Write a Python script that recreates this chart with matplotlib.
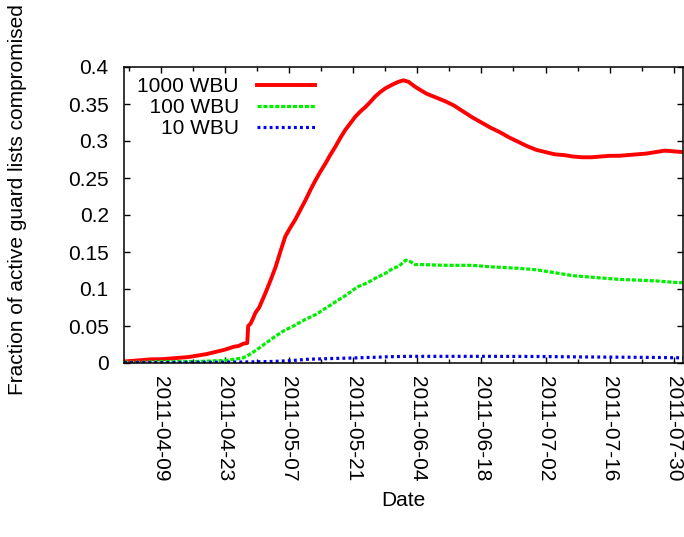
import numpy as np
import pandas as pd
import matplotlib
matplotlib.use('Agg')
import matplotlib.pyplot as plt

plt.rcParams['font.family'] = ['Liberation Sans', 'DejaVu Sans']
plt.rcParams['font.size'] = 15

# x values are days since 2011-04-01
start = pd.Timestamp('2011-04-01')
x_end = pd.Timestamp('2011-08-01')

red_days = [0, 2, 4, 6, 8, 10, 12, 14, 16, 18, 20, 22, 24, 25, 26, 26.9,
            27.1, 27.6, 28.0, 28.7, 29.5, 30.2, 30.9, 32.0, 33.1, 34.2, 35.2,
            36.3, 37.4, 38.5, 39.6, 40.7, 41.8, 42.9, 44.0, 45.0, 46.1, 47.2,
            48.3, 49.4, 50.5, 51.6, 52.7, 53.8, 54.8, 55.9, 57.0, 58.5, 59.9,
            61.0, 62.1, 63.6, 66, 68, 70, 72, 74, 76, 78, 80, 82, 84, 86, 88,
            90, 92, 94, 96, 98, 100, 102, 104, 106, 108, 110, 112, 114, 116,
            118, 120, 122]
red_vals = [0.002, 0.003, 0.004, 0.005, 0.005, 0.006, 0.007, 0.008, 0.010,
            0.012, 0.015, 0.018, 0.022, 0.023, 0.026, 0.027,
            0.050, 0.053, 0.058, 0.068, 0.075, 0.085, 0.095, 0.112, 0.130,
            0.152, 0.171, 0.183, 0.194, 0.207, 0.220, 0.234, 0.247, 0.259,
            0.270, 0.281, 0.292, 0.304, 0.315, 0.324, 0.333, 0.340, 0.346,
            0.353, 0.360, 0.366, 0.371, 0.376, 0.380, 0.382, 0.380, 0.373,
            0.364, 0.359, 0.354, 0.348, 0.340, 0.332, 0.325, 0.318, 0.312,
            0.305, 0.299, 0.293, 0.288, 0.285, 0.282, 0.281, 0.279, 0.278,
            0.278, 0.279, 0.280, 0.280, 0.281, 0.282, 0.283, 0.285, 0.287,
            0.286, 0.285]

green_days = [0, 4, 8, 12, 16, 20, 23, 26, 27, 28, 29, 31, 33, 35, 37, 39.6,
              42, 44, 46, 48.3, 51, 53, 55, 57, 58.5, 60, 61.5, 62.5, 63.5,
              65, 70, 76, 80, 86, 90, 94, 98, 100, 104, 108, 112, 116, 120,
              122]
green_vals = [0.001, 0.001, 0.002, 0.002, 0.002, 0.003, 0.004, 0.007, 0.010,
              0.014, 0.018, 0.027, 0.036, 0.044, 0.050, 0.059, 0.066, 0.074,
              0.082, 0.091, 0.103, 0.108, 0.115, 0.121, 0.127, 0.131, 0.139,
              0.137, 0.133, 0.133, 0.132, 0.132, 0.130, 0.128, 0.126, 0.122,
              0.118, 0.117, 0.115, 0.113, 0.112, 0.111, 0.109, 0.1085]

blue_days = [0, 10, 20, 28, 32, 36, 40, 45, 50, 55, 58, 62, 70, 80, 90, 100,
             110, 116, 122]
blue_vals = [0.0005, 0.0007, 0.001, 0.0015, 0.002, 0.003, 0.005, 0.006,
             0.0068, 0.0078, 0.0085, 0.009, 0.009, 0.009, 0.0088, 0.0082,
             0.0078, 0.0075, 0.007]

series_names = ['1000 WBU', '  100 WBU', '    10 WBU']

major_dates = ['2011-04-09', '2011-04-23', '2011-05-07', '2011-05-21',
               '2011-06-04', '2011-06-18', '2011-07-02', '2011-07-16',
               '2011-07-30']
y_ticks = [0, 0.05, 0.1, 0.15, 0.2, 0.25, 0.3, 0.35, 0.4]
y_labels = ['0', '0.05', '0.1', '0.15', '0.2', '0.25', '0.3', '0.35', '0.4']


def to_dates(days):
    return (start + pd.to_timedelta(days, unit='D')).to_numpy()


fig = plt.figure(figsize=(6.84, 5.37), dpi=100)
ax = fig.add_axes([124 / 684, 1 - 363 / 537, 559 / 684, 296 / 537])

ax.plot(to_dates(red_days), red_vals, color='#ff0000', lw=2.8,
        label=series_names[0])
ax.plot(to_dates(green_days), green_vals, color='#00ee00', lw=2.3,
        dashes=(1.3, 0.55), label=series_names[1])
ax.plot(to_dates(blue_days), blue_vals, color='#0000ee', lw=2.3,
        dashes=(0.9, 1.0), label=series_names[2])

ax.set_xlim(start.to_numpy(), x_end.to_numpy())
ax.set_ylim(0, 0.4)

major = pd.to_datetime(major_dates).to_numpy()
minor = pd.date_range('2011-04-02', '2011-07-31', freq='7D').to_numpy()
ax.set_xticks(major)
ax.set_xticklabels(major_dates, rotation=270)
ax.set_xticks(minor, minor=True)
ax.set_yticks(y_ticks)
ax.set_yticklabels(y_labels)

ax.tick_params(which='both', direction='in', top=True, right=True, width=1)
ax.tick_params(which='major', length=4.5)
ax.tick_params(which='minor', length=3)
ax.tick_params(axis='x', pad=9.5)
ax.tick_params(axis='y', pad=11)
for s in ax.spines.values():
    s.set_linewidth(1.1)

leg = ax.legend(loc='upper left', bbox_to_anchor=(0.024, 0.966),
                frameon=False, markerfirst=False, handlelength=2.8,
                handletextpad=0.85, labelspacing=0.1, borderpad=0,
                borderaxespad=0)

fig.text(18 / 684, 1 - 200 / 537, 'Fraction of active guard lists compromised',
         rotation=90, ha='center', va='center')
fig.text(403.5 / 684, 1 - 500 / 537, 'Date', ha='center', va='center')

fig.savefig('out.png', dpi=100)
